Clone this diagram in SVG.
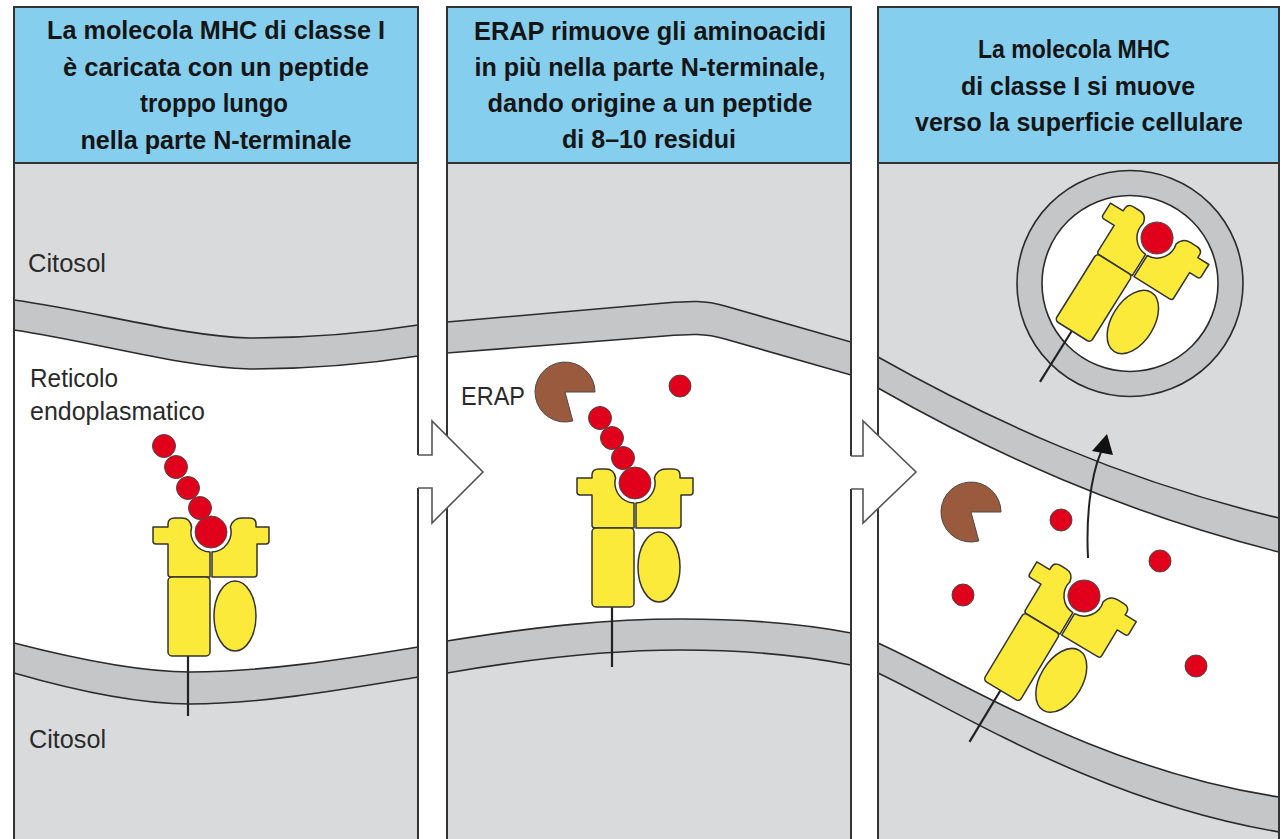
<svg xmlns="http://www.w3.org/2000/svg" xmlns:xlink="http://www.w3.org/1999/xlink" width="1285" height="839" viewBox="0 0 1285 839">
  <style>
    .hdr{fill:#86CEEE;stroke:#333;stroke-width:2}
    .body{fill:#D9DADC}
    .mem{fill:#C5C6C8;stroke:#2b2b2b;stroke-width:1.6}
    .lumen{fill:#fff}
    .frame{fill:none;stroke:#333;stroke-width:2}
    .ht{font-family:"Liberation Sans",Arial,sans-serif;font-weight:bold;font-size:26.5px;fill:#151515;text-anchor:middle}
    .lbl{font-family:"Liberation Sans",Arial,sans-serif;font-size:26px;fill:#2a2a2a}
    .y{fill:#FCEA3A;stroke:#333;stroke-width:1.5;stroke-linejoin:round}
    .pep{fill:#E1001B;stroke:#4a4a4a;stroke-width:1}
    .erap{fill:#9A5A3D;stroke:#4a4a4a;stroke-width:1}
    .stem{stroke:#222;stroke-width:2.2;fill:none}
    .blk{fill:#fff;stroke:none}
    .blkline{fill:none;stroke:#555;stroke-width:1.6}
  </style>
  <defs>
    <!-- MHC class I molecule; origin = centre of the bound peptide residue -->
    <g id="mhc">
      <line class="stem" x1="-23" y1="122" x2="-23" y2="184"/>
      <path class="y" d="M-58,-5 H-43 V-8 Q-43,-14 -36,-14 H-29 Q-21,-14 -19.4,-5 A20,20 0 0 0 -1,20 V45 H-40 Q-43,45 -43,42 V12 H-55 Q-58,12 -58,9 Z"/>
      <path class="y" d="M58,-5 H45 V-8 Q45,-14 38,-14 H31 Q22,-14 19.4,-5 A20,20 0 0 1 1,20 V45 H43 Q46,45 46,42 V12 H55 Q58,12 58,9 Z"/>
      <rect class="y" x="-43" y="45" width="42" height="79" rx="4"/>
      <ellipse class="y" cx="24" cy="84" rx="21" ry="35"/>
      <circle class="pep" cx="0" cy="0" r="16"/>
    </g>
  </defs>

  <rect width="1285" height="839" fill="#fff"/>

  <!-- Step 1: loading of a long peptide -->
  <g id="panel1">
    <rect class="body" x="14" y="163" width="404" height="690"/>
    <path class="lumen" d="M14,330 C100,343 180,367 250,369 C320,369 380,362 418,356 L418,647 C340,660 260,672 190,672 C140,672 80,660 14,643 Z"/>
    <path class="mem" d="M14,300 C100,312 180,336 250,338 C320,338 380,331 418,325 L418,356 C380,362 320,369 250,369 C180,367 100,343 14,330 Z"/>
    <path class="mem" d="M14,643 C80,660 140,672 190,672 C260,672 340,660 418,647 L418,677 C340,690 260,704 190,704 C140,704 80,692 14,673 Z"/>
    <rect class="hdr" x="14" y="7" width="404" height="156"/>
    <path class="frame" d="M14,850 V7 H418 V850"/>
    <text class="ht" x="216" y="39" textLength="338" lengthAdjust="spacingAndGlyphs">La molecola MHC di classe I</text>
    <text class="ht" x="216" y="76" textLength="306" lengthAdjust="spacingAndGlyphs">è caricata con un peptide</text>
    <text class="ht" x="214" y="112" textLength="148" lengthAdjust="spacingAndGlyphs">troppo lungo</text>
    <text class="ht" x="216" y="149" textLength="271" lengthAdjust="spacingAndGlyphs">nella parte N-terminale</text>
    <text class="lbl" x="28" y="272" textLength="78" lengthAdjust="spacingAndGlyphs">Citosol</text>
    <text class="lbl" x="30" y="387" textLength="88" lengthAdjust="spacingAndGlyphs">Reticolo</text>
    <text class="lbl" x="30" y="420" textLength="175" lengthAdjust="spacingAndGlyphs">endoplasmatico</text>
    <text class="lbl" x="29" y="748" textLength="77" lengthAdjust="spacingAndGlyphs">Citosol</text>
    <g id="mhc1">
      <use xlink:href="#mhc" href="#mhc" transform="translate(211,532)"/>
      <circle class="pep" cx="164" cy="446" r="11.5"/>
      <circle class="pep" cx="176" cy="467" r="11.5"/>
      <circle class="pep" cx="188" cy="488" r="11.5"/>
      <circle class="pep" cx="200" cy="508" r="11.5"/>
    </g>
  </g>

  <!-- Step 2: ERAP trimming -->
  <g id="panel2">
    <rect class="body" x="447" y="163" width="404" height="690"/>
    <path class="lumen" d="M447,353 L665,336 C690,334 705,333 725,339 L851,375 L851,633 C815,626 760,619 680,619 C610,619 540,626 447,641 Z"/>
    <path class="mem" d="M447,322 L665,303 C690,301 705,300 725,306 L851,342 L851,375 L725,339 C705,333 690,334 665,336 L447,353 Z"/>
    <path class="mem" d="M447,641 C540,626 610,619 680,619 C760,619 815,626 851,633 L851,665 C815,658 760,650 680,650 C610,650 540,657 447,673 Z"/>
    <rect class="hdr" x="447" y="7" width="404" height="156"/>
    <path class="frame" d="M447,850 V7 H851 V850"/>
    <text class="ht" x="650" y="40" textLength="352" lengthAdjust="spacingAndGlyphs">ERAP rimuove gli aminoacidi</text>
    <text class="ht" x="650" y="76" textLength="351" lengthAdjust="spacingAndGlyphs">in più nella parte N-terminale,</text>
    <text class="ht" x="650" y="112" textLength="325" lengthAdjust="spacingAndGlyphs">dando origine a un peptide</text>
    <text class="ht" x="649" y="148" textLength="174" lengthAdjust="spacingAndGlyphs">di 8–10 residui</text>
    <text class="lbl" x="461" y="405" textLength="64" lengthAdjust="spacingAndGlyphs">ERAP</text>
    <g id="erap2">
      <path class="erap" d="M565,392 L595,392 A30,30 0 1 0 572.8,421 Z"/>
    </g>
    <circle class="pep" cx="680" cy="386" r="11"/>
    <g id="mhc2">
      <use xlink:href="#mhc" href="#mhc" transform="translate(635,483)"/>
      <circle class="pep" cx="600" cy="418" r="11.5"/>
      <circle class="pep" cx="612" cy="438" r="11.5"/>
      <circle class="pep" cx="623" cy="458" r="11.5"/>
    </g>
  </g>

  <!-- Step 3: transport to the cell surface -->
  <g id="panel3">
    <rect class="body" x="878" y="163" width="401" height="690"/>
    <path class="lumen" d="M878,388 C990,452 1120,512 1279,552 L1279,797 C1100,770 960,680 878,643 Z"/>
    <path class="mem" d="M878,357 C990,420 1120,480 1279,518 L1279,552 C1120,512 990,452 878,388 Z"/>
    <path class="mem" d="M878,643 C960,680 1100,770 1279,797 L1279,832 C1100,802 960,712 878,673 Z"/>
    <rect class="hdr" x="878" y="7" width="401" height="156"/>
    <path class="frame" d="M878,850 V7 H1279 V850"/>
    <text class="ht" x="1074" y="58" textLength="192" lengthAdjust="spacingAndGlyphs">La molecola MHC</text>
    <text class="ht" x="1078" y="95" textLength="234" lengthAdjust="spacingAndGlyphs">di classe I si muove</text>
    <text class="ht" x="1079" y="131" textLength="328" lengthAdjust="spacingAndGlyphs">verso la superficie cellulare</text>
    <g id="vesicle">
      <circle class="mem" cx="1130" cy="283.5" r="113"/>
      <circle cx="1130" cy="283.5" r="88" fill="#fff" stroke="#2b2b2b" stroke-width="1.6"/>
      <use xlink:href="#mhc" href="#mhc" transform="translate(1157,238) rotate(32)"/>
    </g>
    <g id="erap3">
      <path class="erap" d="M971,512 L1001,512 A30,30 0 1 0 978.8,541 Z"/>
    </g>
    <circle class="pep" cx="1061" cy="520" r="11"/>
    <circle class="pep" cx="963" cy="595" r="11"/>
    <circle class="pep" cx="1160" cy="561" r="11"/>
    <circle class="pep" cx="1196" cy="666" r="11"/>
    <g id="mhc3">
      <use xlink:href="#mhc" href="#mhc" transform="translate(1084,596) rotate(31)"/>
    </g>
  </g>

  <!-- step arrows and transport arrow -->
  <g id="connectors">
    <path class="blk" d="M416,455 H432 V421 L483,472 L432,523 V488 H416 Z"/>
    <path class="blkline" d="M418,455 H432 V421 L483,472 L432,523 V488 H418"/>
    <path class="blk" d="M849,456 H863 V421 L916,472 L863,523 V489 H849 Z"/>
    <path class="blkline" d="M851,456 H863 V421 L916,472 L863,523 V489 H851"/>
    <path d="M1088,558 C1086,520 1090,478 1101,452" fill="none" stroke="#222" stroke-width="2"/>
    <polygon points="1107,434 1113,455 1092,451" fill="#111"/>
  </g>
</svg>
